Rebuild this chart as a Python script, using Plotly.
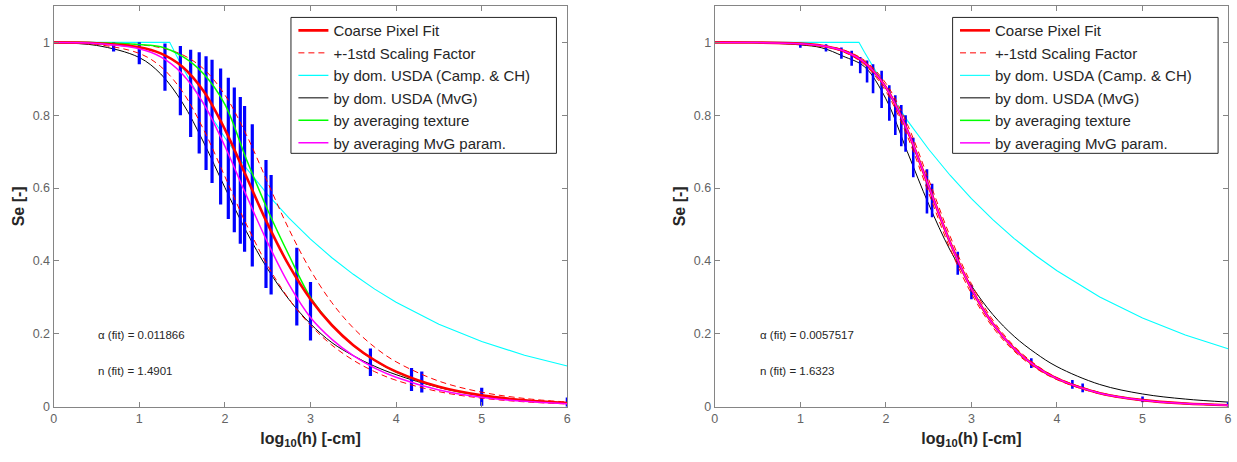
import plotly.graph_objects as go

# ---------------- data ----------------
X_GRID = [0, 0.5, 1, 1.25, 1.5, 1.75, 2, 2.25, 2.5, 2.75, 3, 3.25, 3.5, 3.75, 4, 4.5, 5, 5.5, 6]

# left panel
L_fit = [1.0, 0.9975, 0.9866, 0.9696, 0.9337, 0.8663, 0.7614, 0.6317, 0.501, 0.387, 0.295,
         0.2236, 0.169, 0.1275, 0.0962, 0.0547, 0.0311, 0.0177, 0.0101]
L_std_hi = [1.0, 0.9988, 0.9936, 0.9852, 0.9665, 0.9275, 0.8556, 0.7467, 0.6155, 0.4863, 0.3748,
            0.2855, 0.2162, 0.1634, 0.1233, 0.0702, 0.0399, 0.0227, 0.0129]
L_std_lo = [0.999, 0.9942, 0.9696, 0.9337, 0.8663, 0.7614, 0.6317, 0.501, 0.387, 0.295, 0.2236,
            0.169, 0.1276, 0.0962, 0.0726, 0.0413, 0.0235, 0.0134, 0.0076]
L_mvg = [0.9984, 0.9916, 0.9583, 0.9134, 0.836, 0.7265, 0.6015, 0.4813, 0.3779, 0.2939, 0.2276,
         0.1759, 0.14, 0.111, 0.088, 0.053, 0.031, 0.018, 0.0105]
L_tex = [1.0, 0.999, 0.994, 0.988, 0.962, 0.914, 0.83, 0.68, 0.54, 0.415, 0.30,
         0.225, 0.168, 0.127, 0.095, 0.054, 0.030, 0.017, 0.0095]
L_par = [0.9994, 0.9968, 0.9823, 0.96, 0.9141, 0.8325, 0.7148, 0.5802, 0.45, 0.335, 0.245,
         0.185, 0.14, 0.106, 0.081, 0.046, 0.026, 0.0148, 0.0083]
L_camp_x = [0, 1.355, 1.5, 1.75, 2, 2.25, 2.5, 2.75, 3, 3.25, 3.5, 3.75, 4, 4.5, 5, 5.5, 6]
L_camp = [1, 1, 0.934, 0.830, 0.738, 0.655, 0.582, 0.5176, 0.46, 0.4088, 0.3634, 0.3228,
          0.287, 0.2266, 0.179, 0.1413, 0.1116]

# right panel
R_fit = [0.9999, 0.9994, 0.9964, 0.9908, 0.977, 0.9446, 0.8765, 0.759, 0.6052, 0.4513, 0.3237,
         0.2279, 0.1592, 0.1108, 0.0771, 0.0372, 0.018, 0.0087, 0.0042]
R_std_hi = [1.0, 0.9995, 0.9968, 0.9918, 0.9798, 0.9506, 0.8876, 0.7753, 0.6237, 0.4682, 0.3371,
            0.2378, 0.1662, 0.1157, 0.0800, 0.0390, 0.0189, 0.0091, 0.0044]
R_std_lo = [0.9999, 0.9993, 0.9960, 0.9898, 0.9742, 0.9386, 0.8654, 0.7427, 0.5867, 0.4344, 0.3103,
            0.2180, 0.1522, 0.1059, 0.0742, 0.0354, 0.0171, 0.0083, 0.0040]
R_mvg = [1.0, 0.999, 0.993, 0.985, 0.962, 0.933, 0.845, 0.70, 0.556, 0.43, 0.332,
         0.253, 0.193, 0.147, 0.11, 0.061, 0.035, 0.021, 0.0127]
R_tex = [0.9999, 0.9994, 0.9964, 0.9908, 0.977, 0.9446, 0.8765, 0.759, 0.6052, 0.4513, 0.3237,
         0.2279, 0.1592, 0.1108, 0.0771, 0.0372, 0.018, 0.0087, 0.0042]
R_par = [0.9999, 0.9994, 0.9964, 0.9908, 0.977, 0.9446, 0.8765, 0.759, 0.6052, 0.4513, 0.3237,
         0.2279, 0.1592, 0.1108, 0.0771, 0.0372, 0.018, 0.0087, 0.0042]
R_camp_x = [0, 1.685, 1.75, 2, 2.25, 2.5, 2.75, 3, 3.25, 3.5, 3.75, 4, 4.5, 5, 5.5, 6]
R_camp = [1, 1, 0.9727, 0.8744, 0.786, 0.7066, 0.6353, 0.571, 0.5134, 0.4615, 0.4149, 0.373,
          0.3014, 0.2435, 0.1969, 0.1591]

# observed Se ranges per log10(h)
OBS_X = [0.70, 1.00, 1.30, 1.48, 1.60, 1.70, 1.78, 1.85, 1.95, 2.04, 2.11, 2.18, 2.23, 2.32,
         2.48, 2.54, 2.84, 3.00, 3.70, 4.18, 4.30, 5.00, 6.00]
L_obs_lo = [0.975, 0.94, 0.867, 0.80, 0.74, 0.695, 0.65, 0.614, 0.555, 0.515, 0.479, 0.447,
            0.425, 0.385, 0.326, 0.308, 0.223, 0.182, 0.084, 0.043, 0.039, 0.003, 0.0]
L_obs_hi = [1.0, 1.0, 0.997, 0.99, 0.98, 0.973, 0.962, 0.952, 0.928, 0.903, 0.876, 0.85,
            0.825, 0.775, 0.677, 0.636, 0.436, 0.342, 0.16, 0.106, 0.097, 0.052, 0.025]
R_obs_lo = [0.996, 0.985, 0.975, 0.955, 0.936, 0.915, 0.89, 0.86, 0.82, 0.785, 0.746, 0.715,
            0.70, 0.63, 0.53, 0.52, 0.362, 0.295, 0.106, 0.049, 0.04, 0.012, 0.0]
R_obs_hi = [1.0, 0.998, 0.995, 0.986, 0.977, 0.96, 0.95, 0.94, 0.922, 0.882, 0.855, 0.828,
            0.80, 0.738, 0.652, 0.612, 0.425, 0.335, 0.133, 0.073, 0.064, 0.028, 0.012]

X_TICKS = [0, 1, 2, 3, 4, 5, 6]
Y_TICKS = [0, 0.2, 0.4, 0.6, 0.8, 1]
Y_TICKTEXT = ["0", "0.2", "0.4", "0.6", "0.8", "1"]

NAMES = ["Coarse Pixel Fit", "+-1std Scaling Factor", "by dom. USDA (Camp. & CH)",
         "by dom. USDA (MvG)", "by averaging texture", "by averaging MvG param."]
ALPHA_TXT = ["\u03b1 (fit) = 0.011866", "\u03b1 (fit) = 0.0057517"]
N_TXT = ["n (fit) = 1.4901", "n (fit) = 1.6323"]

# ---------------- figure ----------------
fig = go.Figure()


def bar_segments(xs, lo, hi):
    sx, sy = [], []
    for x, a, b in zip(xs, lo, hi):
        sx += [x, x, None]
        sy += [a, b, None]
    return sx, sy


panels = [
    ("x", "y", "legend", L_fit, L_std_hi, L_std_lo, L_mvg, L_tex, L_par, L_camp_x, L_camp,
     L_obs_lo, L_obs_hi, 3.2),
    ("x2", "y2", "legend2", R_fit, R_std_hi, R_std_lo, R_mvg, R_tex, R_par, R_camp_x, R_camp,
     R_obs_lo, R_obs_hi, 2.6),
]

for (xa, ya, lg, fit, shi, slo, mvg, tex, par, cx, cy, olo, ohi, bw) in panels:
    common = dict(xaxis=xa, yaxis=ya, legend=lg, mode="lines")
    fig.add_trace(go.Scatter(x=cx, y=cy, name=NAMES[2], legendrank=3,
                             line=dict(color="#00FFFF", width=1.1), **common))
    fig.add_trace(go.Scatter(x=X_GRID, y=mvg, name=NAMES[3], legendrank=4,
                             line=dict(color="#000000", width=1, shape="spline"), **common))
    bx, by = bar_segments(OBS_X, olo, ohi)
    fig.add_trace(go.Scatter(x=bx, y=by, showlegend=False, hoverinfo="skip",
                             line=dict(color="#0000FF", width=bw), **common))
    fig.add_trace(go.Scatter(x=X_GRID, y=shi, name=NAMES[1], legendrank=2,
                             line=dict(color="#FF0000", width=1, dash="6px,4px", shape="spline"),
                             **common))
    fig.add_trace(go.Scatter(x=X_GRID, y=slo, name=NAMES[1], showlegend=False,
                             line=dict(color="#FF0000", width=1, dash="6px,4px", shape="spline"),
                             **common))
    fig.add_trace(go.Scatter(x=X_GRID, y=tex, name=NAMES[4], legendrank=5,
                             line=dict(color="#00FF00", width=1.5, shape="spline"), **common))
    fig.add_trace(go.Scatter(x=X_GRID, y=fit, name=NAMES[0], legendrank=1,
                             line=dict(color="#FF0000", width=2.6, shape="spline"), **common))
    fig.add_trace(go.Scatter(x=X_GRID, y=par, name=NAMES[5], legendrank=6,
                             line=dict(color="#FF00FF", width=1.5, shape="spline"), **common))

AX_COLOR = "#858585"
FAM = "Liberation Sans, Arial, sans-serif"
TICK_FONT = dict(family=FAM, size=12.5, color="#636363")
TITLE_FONT = dict(family=FAM, size=16, color="#262626")

Y_DOMAIN = [0.1061, 0.987]
Y_RANGE = [0, 1.1]


def xaxis(domain, anchor):
    return dict(domain=domain, anchor=anchor, range=[0, 6], tickvals=X_TICKS,
                ticks="inside", ticklen=5, tickcolor=AX_COLOR, showline=True,
                linecolor=AX_COLOR, linewidth=1.2, mirror="allticks", showgrid=False,
                zeroline=False, tickfont=TICK_FONT,
                title=dict(text="<b>log<sub>10</sub>(h) [-cm]</b>", font=TITLE_FONT, standoff=7))


def yaxis(anchor):
    return dict(domain=Y_DOMAIN, anchor=anchor, range=Y_RANGE, tickvals=Y_TICKS,
                ticktext=Y_TICKTEXT, ticks="inside", ticklen=5, tickcolor=AX_COLOR,
                showline=True, linecolor=AX_COLOR, linewidth=1.2, mirror="allticks",
                showgrid=False, zeroline=False, tickfont=TICK_FONT,
                title=dict(text="<b>Se [-]</b>", font=TITLE_FONT, standoff=4))


# legend frames drawn as boxes at the reference position; legends sit inside them
LEG = dict(yanchor="top", xanchor="left", y=0.969, bgcolor="rgba(0,0,0,0)", borderwidth=0,
           font=dict(family=FAM, size=15, color="#262626"), tracegroupgap=0, itemwidth=30)
BOXES = [(0.23411, 0.44996), (0.77203, 0.98787)]
shapes = [dict(type="rect", xref="paper", yref="paper", x0=a, x1=b, y0=0.66299, y1=0.96169,
               line=dict(color="#262626", width=1), fillcolor="white", layer="above")
          for a, b in BOXES]

annots = []
for i, (xr, yr) in enumerate([("x", "y"), ("x2", "y2")]):
    annots.append(dict(x=0.5, y=0.196, xref=xr, yref=yr, text=ALPHA_TXT[i], showarrow=False,
                       xanchor="left", yanchor="middle",
                       font=dict(family=FAM, size=11.5, color="#262626")))
    annots.append(dict(x=0.5, y=0.097, xref=xr, yref=yr, text=N_TXT[i], showarrow=False,
                       xanchor="left", yanchor="middle",
                       font=dict(family=FAM, size=11.5, color="#262626")))

fig.update_layout(
    width=1237, height=462, margin=dict(l=0, r=0, t=0, b=0),
    paper_bgcolor="white", plot_bgcolor="white",
    xaxis=xaxis([0.0412, 0.4588], "y"),
    yaxis=yaxis("x"),
    xaxis2=xaxis([0.5787, 0.9960], "y2"),
    yaxis2=yaxis("x2"),
    legend=dict(LEG, x=0.2361),
    legend2=dict(LEG, x=0.7740),
    shapes=shapes,
    annotations=annots,
    showlegend=True,
)

# page fix-ups: no default body margin and no inline-block gap under the plot
fig.write_html(
    "out.html",
    config={"displayModeBar": False},
    post_script="document.body.style.margin='0px';"
                "document.documentElement.style.overflow='hidden';"
                "var sc=document.querySelectorAll('.svg-container');"
                "for(var i=0;i<sc.length;i++){sc[i].style.display='block';}",
)
